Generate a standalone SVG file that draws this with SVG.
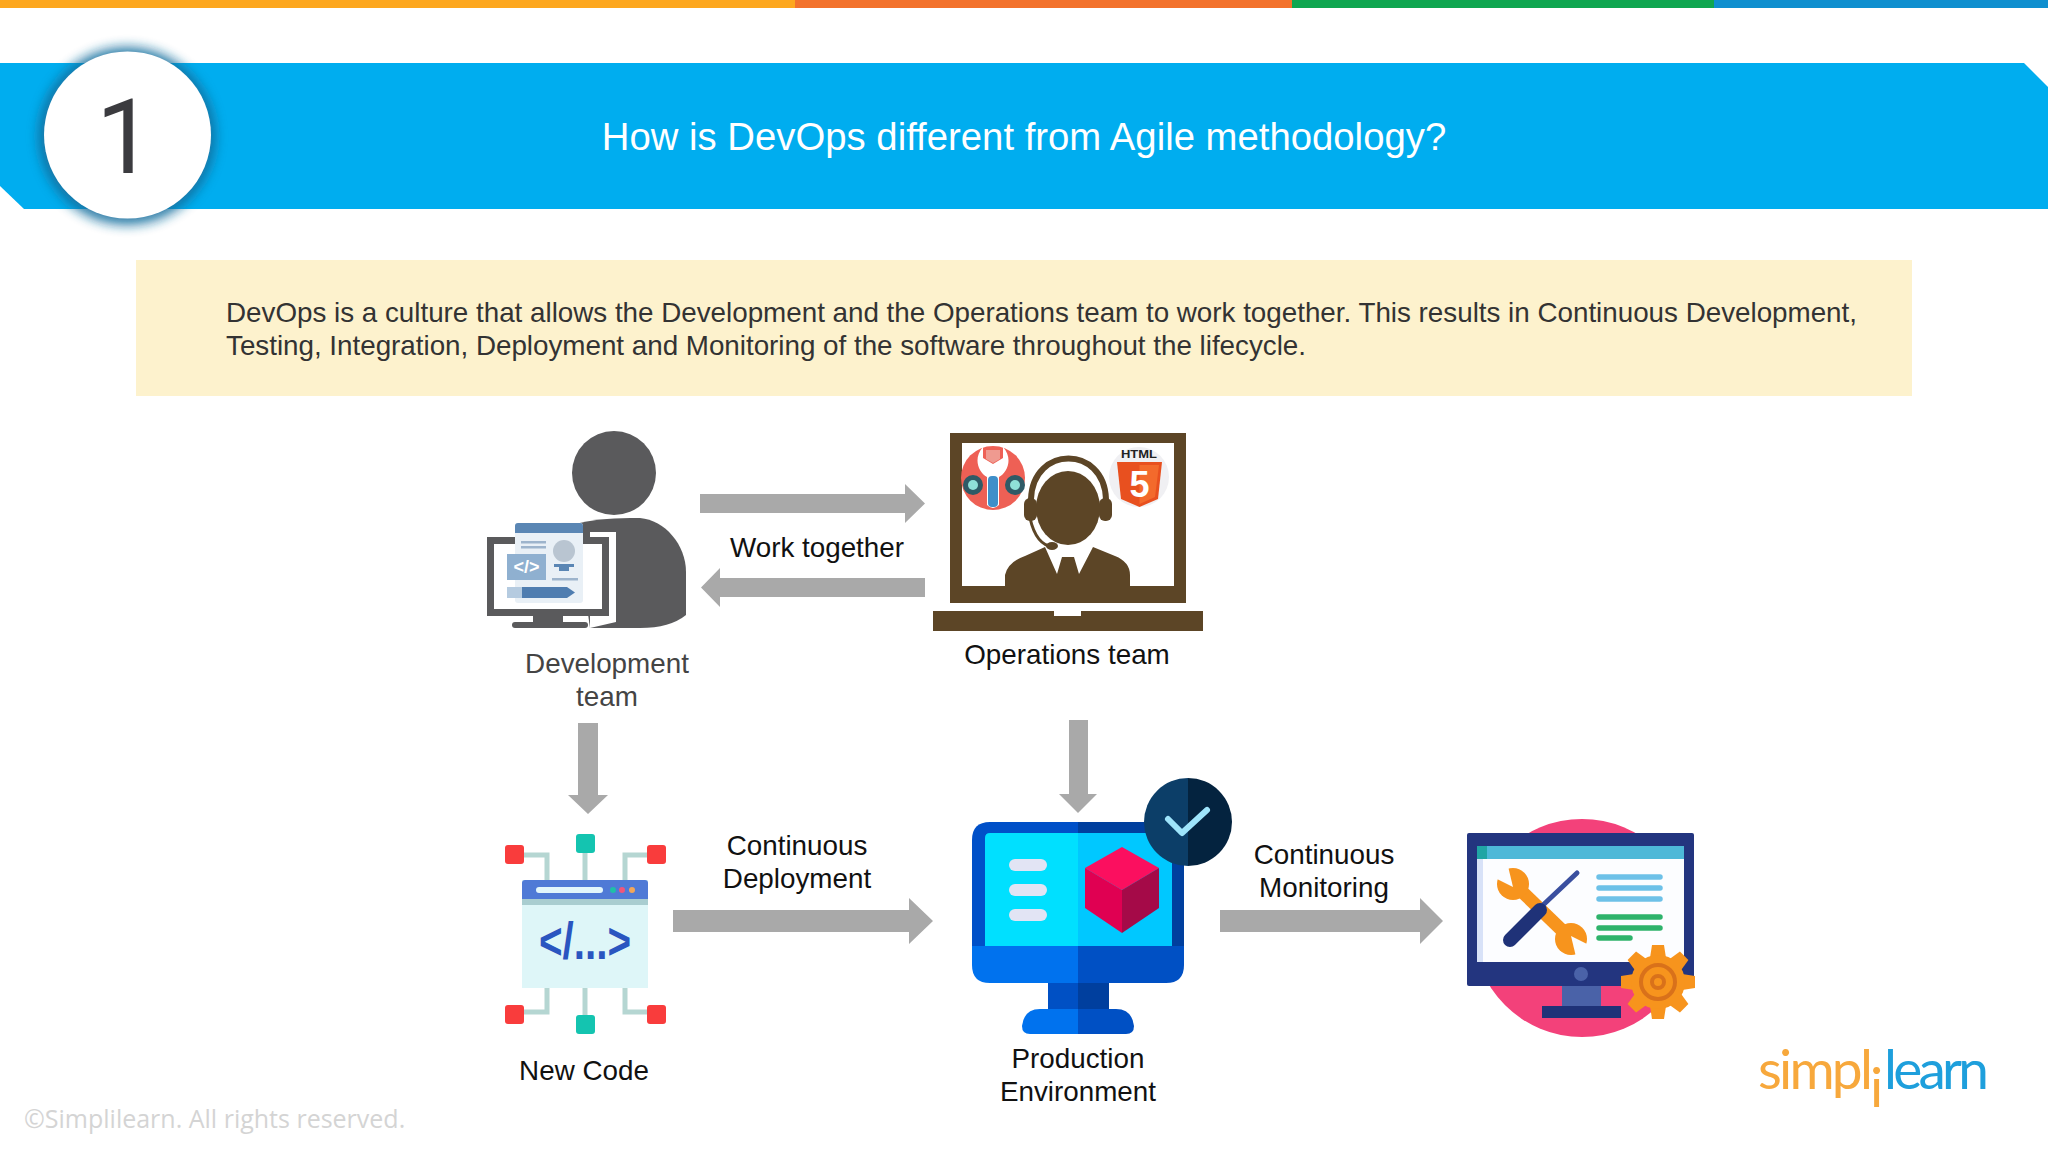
<svg xmlns="http://www.w3.org/2000/svg" width="2048" height="1152" viewBox="0 0 2048 1152">
<style>
.t{font-family:"Liberation Sans",Arial,sans-serif;font-size:27.8px;fill:#111;text-anchor:middle}
.b{font-family:"Liberation Sans",Arial,sans-serif;font-size:27.8px;fill:#333}
.arrow{fill:#a9a9a9}
</style>
<defs>
<filter id="blur" x="-20%" y="-20%" width="140%" height="140%"><feGaussianBlur stdDeviation="6"/></filter>
<polygon id="tooth" points="-6,-37 6,-37 8,-24 -8,-24" fill="#f7941d"/>
</defs>
<rect width="2048" height="1152" fill="#fff"/>
<g id="topbar">
<rect x="0" y="0" width="795" height="8" fill="#fda71e"/>
<rect x="795" y="0" width="497" height="8" fill="#f3722c"/>
<rect x="1292" y="0" width="422" height="8" fill="#0fa650"/>
<rect x="1714" y="0" width="334" height="8" fill="#0f8fcf"/>
</g>
<g id="banner">
<polygon points="0,63 2024,63 2048,87 2048,209 24,209 0,186" fill="#00adef"/>
<text x="1024" y="149.500" font-family="Liberation Sans, Arial, sans-serif" font-size="38.300" fill="#fff" text-anchor="middle">How is DevOps different from Agile methodology?</text>
</g>
<g id="badge">
<circle cx="127" cy="136" r="89" fill="#16709f" opacity="0.9" filter="url(#blur)"/>
<circle cx="127.500" cy="135" r="83.500" fill="#fff"/>
<text x="125" y="173" font-family="Roboto, sans-serif" font-weight="400" font-size="103" fill="#3b3b3f" text-anchor="middle">1</text>
</g>
<g id="intro">
<rect x="136" y="260" width="1776" height="136" fill="#fdf2cd"/>
<text class="b" x="226" y="322" textLength="1631" lengthAdjust="spacing">DevOps is a culture that allows the Development and the Operations team to work together. This results in Continuous Development,</text>
<text class="b" x="226" y="355" textLength="1080" lengthAdjust="spacing">Testing, Integration, Deployment and Monitoring of the software throughout the lifecycle.</text>
</g>
<g id="connectors">
<polygon class="arrow" points="700,494 905,494 905,484 925,503.500 905,523 905,513 700,513"/>
<polygon class="arrow" points="925,578 720,578 720,568 701,587.500 720,607 720,597 925,597"/>
<polygon class="arrow" points="578,723 598,723 598,795 608,795 588,814 568,795 578,795"/>
<polygon class="arrow" points="1069,720 1088,720 1088,794 1097,794 1078,813 1059,794 1069,794"/>
<polygon class="arrow" points="673,910 909,910 909,898 933,921 909,944 909,932 673,932"/>
<polygon class="arrow" points="1220,910 1420,910 1420,898 1443,921 1420,944 1420,932 1220,932"/>
</g>
<g id="dev-team">
<circle cx="614" cy="473" r="42" fill="#5a5a5c"/>
<path d="M575,524 Q600,517 640,518 C665,520 686,545 686,572 L686,615 Q670,628 640,628 L590,628 Z" fill="#5a5a5c"/>
<polygon points="590,532 616,532 616,622 590,628" fill="#fff"/>
<rect x="487" y="537" width="122" height="79" fill="#5a5a5c"/>
<rect x="494" y="544" width="108" height="65" fill="#fff"/>
<rect x="533" y="616" width="30" height="7" fill="#5a5a5c"/>
<rect x="512" y="622" width="76" height="6" rx="3" fill="#5a5a5c"/>
<rect x="515" y="523" width="68" height="80" rx="3" fill="#e9f0f6"/>
<path d="M515,533 V526 Q515,523 518,523 H580 Q583,523 583,526 V533 Z" fill="#5a86b4"/>
<rect x="521" y="541" width="25" height="2.500" fill="#9db4cc"/>
<rect x="521" y="546" width="25" height="2.500" fill="#9db4cc"/>
<rect x="507" y="554" width="39" height="26" fill="#8fb0d0"/>
<text x="526.500" y="573" font-family="Liberation Sans, Arial, sans-serif" font-size="18" font-weight="700" fill="#fff" text-anchor="middle">&lt;/&gt;</text>
<circle cx="564" cy="551" r="11" fill="#b9c5d1"/>
<rect x="554" y="564" width="20" height="3" fill="#5a86b4"/>
<rect x="559" y="567" width="10" height="4" fill="#5a86b4"/>
<rect x="552" y="578" width="26" height="2.500" fill="#9db4cc"/>
<rect x="507" y="587" width="15" height="11" fill="#b5cbe0"/>
<polygon points="522,587 567,587 575,592.500 567,598 522,598" fill="#4f7db0"/>
<text class="t" x="607" y="673" style="fill:#444">Development</text>
<text class="t" x="607" y="706" style="fill:#444">team</text>
</g>
<g id="ops-team">
<rect x="950" y="433" width="236" height="170" fill="#5c4526"/>
<rect x="962" y="443" width="212" height="143" fill="#fff"/>
<path d="M933,611 H1054 V616 H1081 V611 H1203 V631 H933 Z" fill="#5c4526"/>
<circle cx="993" cy="478" r="32" fill="#ee6055"/>
<path d="M983,447 C973,458 978,472 987,477 L987,505 Q993,511 999,505 L999,477 C1008,472 1013,458 1003,447 L1003,458 L993,464 L983,458 Z" fill="#fff"/>
<rect x="988" y="476" width="10" height="31" rx="4" fill="#3e8fc9"/>
<polygon points="986,450 1000,450 1000,459 993,463 986,459" fill="#ef9a90"/>
<circle cx="973" cy="485" r="10" fill="#2f5a66"/>
<circle cx="973" cy="485" r="5" fill="#8fe0d8"/>
<circle cx="1015" cy="485" r="10" fill="#2f5a66"/>
<circle cx="1015" cy="485" r="5" fill="#8fe0d8"/>
<circle cx="1139" cy="477" r="30" fill="#f0f0f3"/>
<text x="1139" y="458" font-family="Liberation Sans, Arial, sans-serif" font-size="11" font-weight="700" fill="#222" text-anchor="middle" textLength="36" lengthAdjust="spacingAndGlyphs">HTML</text>
<polygon points="1117,462 1162,462 1158,499 1139.500,507 1121,499" fill="#e8501f"/>
<polygon points="1139.500,465 1159,465 1155,497 1139.500,504" fill="#f36a2c"/>
<text x="1139.500" y="497" font-family="Liberation Sans, Arial, sans-serif" font-size="36" font-weight="700" fill="#fff" text-anchor="middle">5</text>
<path d="M1031,499 C1033,445 1104,445 1106,499" fill="none" stroke="#5c4526" stroke-width="6"/>
<path d="M1037,497 C1040,455 1097,455 1100,497" fill="none" stroke="#fff" stroke-width="4"/>
<ellipse cx="1068" cy="508" rx="32" ry="37" fill="#5c4526"/>
<rect x="1024" y="498" width="13" height="23" rx="6" fill="#5c4526"/>
<rect x="1099" y="498" width="13" height="23" rx="6" fill="#5c4526"/>
<path d="M1030,518 Q1036,545 1053,547" fill="none" stroke="#5c4526" stroke-width="3"/>
<ellipse cx="1052" cy="546" rx="6" ry="4" fill="#5c4526"/>
<path d="M1005,587 V575 Q1008,562 1025,556 L1045,547 L1057,574 L1062,557 L1074,557 L1079,574 L1093,547 L1115,556 Q1130,562 1130,575 V587 Z" fill="#5c4526"/>
<text class="t" x="1067" y="664">Operations team</text>
</g>
<g id="work-together-label"><text class="t" x="817" y="557">Work together</text></g>
<g id="deploy-label"><text class="t" x="797" y="855">Continuous</text><text class="t" x="797" y="888">Deployment</text></g>
<g id="monitor-label"><text class="t" x="1324" y="864">Continuous</text><text class="t" x="1324" y="897">Monitoring</text></g>
<g id="new-code">
<g fill="none" stroke="#b5d6d2" stroke-width="5">
<path d="M524,855 H547 V880"/><path d="M647,855 H625 V880"/><path d="M585,853 V880"/>
<path d="M524,1012 H547 V988"/><path d="M647,1012 H625 V988"/><path d="M585,1015 V988"/>
</g>
<rect x="522" y="880" width="126" height="108" fill="#def6f8"/>
<path d="M522,899 V883 Q522,880 525,880 H645 Q648,880 648,883 V899 Z" fill="#4f7ad6"/>
<rect x="522" y="899" width="126" height="6" fill="#a9cdd0"/>
<rect x="536" y="887" width="67" height="6" rx="3" fill="#e2f6fb"/>
<circle cx="613" cy="890" r="3" fill="#1fc0a8"/><circle cx="622" cy="890" r="3" fill="#f0577a"/><circle cx="632" cy="890" r="3" fill="#f2a65a"/>
<text x="585" y="959" font-family="Liberation Sans, Arial, sans-serif" font-size="52" font-weight="700" fill="#2a55c0" text-anchor="middle" textLength="92" lengthAdjust="spacingAndGlyphs">&lt;/...&gt;</text>
<rect x="505" y="845" width="19" height="19" rx="3" fill="#f93c3c"/><rect x="647" y="845" width="19" height="19" rx="3" fill="#f93c3c"/>
<rect x="505" y="1005" width="19" height="19" rx="3" fill="#f93c3c"/><rect x="647" y="1005" width="19" height="19" rx="3" fill="#f93c3c"/>
<rect x="576" y="834" width="19" height="19" rx="3" fill="#14c4b0"/><rect x="576" y="1015" width="19" height="19" rx="3" fill="#14c4b0"/>
<text class="t" x="584" y="1080">New Code</text>
</g>
<g id="production">
<path d="M1078,822 H990 Q972,822 972,840 V946 H1078 Z" fill="#0050c8"/>
<path d="M1078,822 H1166 Q1184,822 1184,840 V946 H1078 Z" fill="#003f9e"/>
<path d="M985,946 V838 Q985,833 990,833 H1078 V946 Z" fill="#00e0ff"/>
<path d="M1172,946 V838 Q1172,833 1167,833 H1078 V946 Z" fill="#00c8ff"/>
<path d="M972,946 H1078 V983 H990 Q972,983 972,965 Z" fill="#0072ee"/>
<path d="M1184,946 H1078 V983 H1166 Q1184,983 1184,965 Z" fill="#0050c4"/>
<rect x="1048" y="983" width="30" height="27" fill="#0050c4"/><rect x="1078" y="983" width="31" height="27" fill="#003f9e"/>
<path d="M1078,1034 H1030 Q1022,1034 1022,1026 Q1024,1009 1040,1009 H1078 Z" fill="#0072ee"/>
<path d="M1078,1034 H1126 Q1134,1034 1134,1026 Q1132,1009 1116,1009 H1078 Z" fill="#0050c4"/>
<rect x="1009" y="859" width="38" height="12" rx="6" fill="#e2e4f4"/><rect x="1009" y="884" width="38" height="12" rx="6" fill="#e2e4f4"/><rect x="1009" y="909" width="38" height="12" rx="6" fill="#e2e4f4"/>
<polygon points="1122,847 1159,868 1122,890 1085,868" fill="#fb0f5f"/>
<polygon points="1085,868 1122,890 1122,933 1085,908" fill="#e00052"/>
<polygon points="1159,868 1122,890 1122,933 1159,908" fill="#a50a48"/>
<path d="M1188,778 A44,44 0 0 0 1188,866 Z" fill="#0c3e68"/>
<path d="M1188,778 A44,44 0 0 1 1188,866 Z" fill="#04233f"/>
<path d="M1168,819 L1182,833 L1207,810" fill="none" stroke="#9ee4fb" stroke-width="6" stroke-linecap="round" stroke-linejoin="round"/>
<text class="t" x="1078" y="1068">Production</text>
<text class="t" x="1078" y="1101">Environment</text>
</g>
<g id="monitoring">
<circle cx="1582" cy="928" r="109" fill="#f3417a"/>
<rect x="1562" y="986" width="39" height="22" fill="#4a62a8"/>
<rect x="1542" y="1006" width="79" height="12" fill="#1f3278"/>
<rect x="1467" y="833" width="227" height="153" rx="2" fill="#23357f"/>
<rect x="1477" y="846" width="207" height="116" fill="#fcfdff"/>
<rect x="1477" y="859" width="6" height="103" fill="#d8e2f8"/>
<rect x="1477" y="846" width="207" height="13" fill="#4db8d8"/>
<rect x="1477" y="846" width="10" height="13" fill="#20a5a5"/>
<circle cx="1581" cy="974" r="7" fill="#4a62a8"/>
<path d="M1514,884 L1570,938" stroke="#f7941d" stroke-width="13"/>
<circle cx="1513" cy="884" r="16" fill="#f7941d"/>
<polygon points="1513,887 1495,878 1507,862" fill="#fcfdff"/>
<circle cx="1571" cy="939" r="16" fill="#f7941d"/>
<polygon points="1571,936 1589,945 1577,961" fill="#fcfdff"/>
<path d="M1577,873 L1542,906" stroke="#3a4f9f" stroke-width="5" stroke-linecap="round"/>
<path d="M1540,910 L1510,940" stroke="#1f3278" stroke-width="14" stroke-linecap="round"/>
<g stroke-width="5.500" stroke-linecap="round">
<path d="M1599,877 H1660 M1599,888 H1660 M1599,899 H1660" stroke="#6dc1e8"/>
<path d="M1599,917 H1660 M1599,928 H1660 M1599,938 H1630" stroke="#2eb36b"/>
</g>
<g transform="translate(1658,982)">
<use href="#tooth"/><use href="#tooth" transform="rotate(45)"/><use href="#tooth" transform="rotate(90)"/><use href="#tooth" transform="rotate(135)"/><use href="#tooth" transform="rotate(180)"/><use href="#tooth" transform="rotate(225)"/><use href="#tooth" transform="rotate(270)"/><use href="#tooth" transform="rotate(315)"/>
<circle r="27" fill="#f7941d"/><circle r="17" fill="none" stroke="#d9711a" stroke-width="4"/><circle r="6" fill="none" stroke="#d9711a" stroke-width="4"/>
</g>
</g>
<g id="footer">
<text x="24" y="1128" font-family="Open Sans, sans-serif" font-size="25" fill="#d4d4d4">©Simplilearn. All rights reserved.</text>
<text font-family="Lato, sans-serif" font-weight="400" font-size="55"><tspan x="1758" y="1089" fill="#f7a83c" letter-spacing="-2.800">simpl</tspan><tspan x="1870" y="1107" fill="#f7a83c">i</tspan><tspan x="1884" y="1089" fill="#1e9fdc" letter-spacing="-3.800">learn</tspan></text>
</g>
</svg>
